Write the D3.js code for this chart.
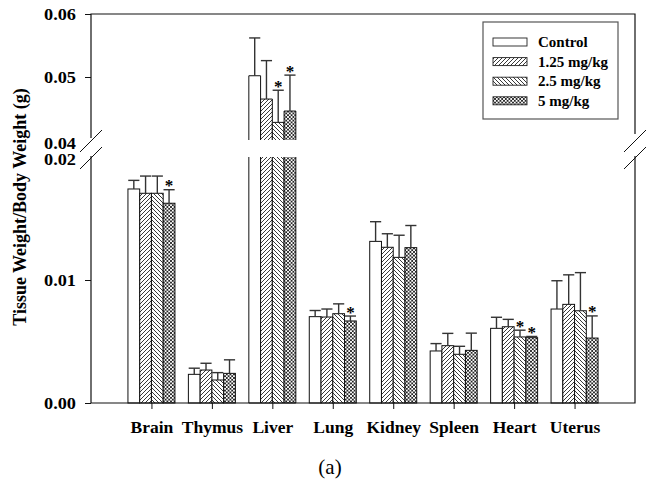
<!DOCTYPE html>
<html>
<head>
<meta charset="utf-8">
<script src="https://cdn.jsdelivr.net/npm/d3@7"></script>
<style>
  html, body { margin: 0; padding: 0; background: #fff; }
  svg { display: block; }
  text { font-family: "Liberation Serif", "Times New Roman", serif; fill: #000; }
</style>
</head>
<body>
<svg id="chart" width="649" height="484"></svg>
<script>
// ---- data ----
const categories = ["Brain", "Thymus", "Liver", "Lung", "Kidney", "Spleen", "Heart", "Uterus"];
const seriesNames = ["Control", "1.25 mg/kg", "2.5 mg/kg", "5 mg/kg"];
const controlMean = [0.0174, 0.00233, 0.0502, 0.00702, 0.01314, 0.00423, 0.00607, 0.00764];
const controlSD   = [0.0007, 0.0005, 0.0060, 0.0005, 0.0016, 0.0006, 0.0009, 0.0023];
const dose125Mean = [0.01705, 0.00268, 0.0465, 0.00699, 0.01266, 0.00466, 0.0062, 0.00802];
const dose125SD   = [0.0014, 0.00055, 0.0061, 0.00065, 0.0011, 0.0010, 0.0006, 0.0024];
const dose25Mean  = [0.01705, 0.00187, 0.0428, 0.00726, 0.01184, 0.00396, 0.00537, 0.0075];
const dose25SD    = [0.0014, 0.0006, 0.0051, 0.0008, 0.0018, 0.00065, 0.00055, 0.0031];
const dose5Mean   = [0.01624, 0.00241, 0.0446, 0.00667, 0.01263, 0.00428, 0.00531, 0.00528];
const dose5SD     = [0.0011, 0.0011, 0.0057, 0.0004, 0.0018, 0.0014, 0.0001, 0.0018];
const dose25Sig   = ["Liver", "Heart"];
const dose5Sig    = ["Brain", "Liver", "Lung", "Heart", "Uterus"];
const lowerTicks  = [0, 0.01, 0.02];
const upperTicks  = [0.04, 0.05, 0.06];
const yTitle = "Tissue Weight/Body Weight (g)";
const caption = "(a)";

const series = [
  { name: seriesNames[0], mean: controlMean, sd: controlSD, sig: [], fill: "#fff" },
  { name: seriesNames[1], mean: dose125Mean, sd: dose125SD, sig: [], fill: "url(#hatchFwd)" },
  { name: seriesNames[2], mean: dose25Mean, sd: dose25SD, sig: dose25Sig, fill: "url(#hatchBack)" },
  { name: seriesNames[3], mean: dose5Mean, sd: dose5SD, sig: dose5Sig, fill: "url(#hatchCross)" }
];

// ---- layout ----
const L = 91, R = 635, T = 14, B = 403;
const svg = d3.select("#chart");
const defs = svg.append("defs");

function pattern(id, size, d) {
  const p = defs.append("pattern").attr("id", id).attr("patternUnits", "userSpaceOnUse")
    .attr("width", size).attr("height", size);
  p.append("rect").attr("width", size).attr("height", size).attr("fill", "#fff");
  p.append("path").attr("d", d).attr("stroke", "#222").attr("stroke-width", 0.9).attr("fill", "none");
}
pattern("hatchFwd", 4, "M-1,1 l2,-2 M0,4 l4,-4 M3,5 l2,-2");
pattern("hatchBack", 4, "M-1,3 l2,2 M0,0 l4,4 M3,-1 l2,2");
pattern("hatchCross", 3.6, "M-1,1 l2,-2 M0,3.6 l3.6,-3.6 M2.6,4.6 l2,-2 M-1,2.6 l2,2 M0,0 l3.6,3.6 M2.6,-1 l2,2");

const x = d3.scalePoint().domain(categories).range([L, R]).padding(1);
const x1 = d3.scaleBand().domain(seriesNames).range([-23.5, 23.5]).padding(0);
const yLow = d3.scaleLinear().domain([0, 0.02]).range([B, 157]);
const yUp = d3.scaleLinear().domain([0.04, 0.06]).range([140, T]);

function yOf(v) { return v > 0.02 ? yUp(v) : yLow(v); }

// ---- bars ----
const bars = svg.append("g");
series.forEach(s => {
  categories.forEach((c, i) => {
    const v = s.mean[i];
    const x0 = x(c) + x1(s.name);
    const w = x1.bandwidth();
    if (v <= 0.02) {
      bars.append("rect").attr("x", x0).attr("y", yLow(v)).attr("width", w)
        .attr("height", yLow(0) - yLow(v)).attr("fill", s.fill)
        .attr("stroke", "#111").attr("stroke-width", 1);
    } else {
      bars.append("rect").attr("x", x0).attr("y", yLow(0.02)).attr("width", w)
        .attr("height", yLow(0) - yLow(0.02)).attr("fill", s.fill);
      bars.append("path")
        .attr("d", `M${x0},${yLow(0.02)}V${yLow(0)}H${x0 + w}V${yLow(0.02)}`)
        .attr("fill", "none").attr("stroke", "#111");
      bars.append("rect").attr("x", x0).attr("y", yUp(v)).attr("width", w)
        .attr("height", yUp(0.04) - yUp(v)).attr("fill", s.fill);
      bars.append("path")
        .attr("d", `M${x0},${yUp(0.04)}V${yUp(v)}H${x0 + w}V${yUp(0.04)}`)
        .attr("fill", "none").attr("stroke", "#111");
    }
  });
});

// ---- error bars & stars ----
const err = svg.append("g").attr("stroke", "#333").attr("stroke-width", 1.4);
series.forEach(s => {
  categories.forEach((c, i) => {
    const v = s.mean[i], top = v + s.sd[i];
    const cx = x(c) + x1(s.name) + x1.bandwidth() / 2;
    const hw = x1.bandwidth() / 2 - 0.3;
    err.append("line").attr("x1", cx).attr("x2", cx).attr("y1", yOf(v)).attr("y2", yOf(top));
    err.append("line").attr("x1", cx - hw).attr("x2", cx + hw).attr("y1", yOf(top)).attr("y2", yOf(top));
    if (s.sig.includes(c)) {
      svg.append("text").attr("x", cx).attr("y", yOf(top) + 1.5)
        .attr("text-anchor", "middle").attr("font-size", 17).attr("font-weight", "bold").text("*");
    }
  });
});

// ---- axes ----
const fmt = d3.format(".2f");
const axLow = svg.append("g").attr("transform", `translate(${L},0)`)
  .call(d3.axisLeft(yLow).tickValues(lowerTicks).tickFormat(fmt).tickSize(6).tickPadding(9));
const axUp = svg.append("g").attr("transform", `translate(${L},0)`)
  .call(d3.axisLeft(yUp).tickValues(upperTicks).tickFormat(fmt).tickSize(6).tickPadding(9));
[axLow, axUp].forEach(g => {
  g.select(".domain").remove();
  g.selectAll("line").attr("stroke", "#111");
  g.selectAll("text").attr("font-size", 16).attr("font-weight", "bold")
    .attr("textLength", 32).attr("lengthAdjust", "spacingAndGlyphs")
    .style("font-family", '"Liberation Serif", serif');
});
axLow.selectAll(".tick").filter(d => d === 0.02).select("line").remove();
axUp.selectAll(".tick").filter(d => d === 0.04).select("line").remove();
axUp.selectAll(".tick").filter(d => d === 0.04).select("text").attr("dy", "0.53em");
axLow.selectAll(".tick").filter(d => d === 0.02).select("text").attr("dy", "0.45em");

const axX = svg.append("g").attr("transform", `translate(0,${B})`)
  .call(d3.axisBottom(x).tickSize(6).tickPadding(12));
axX.select(".domain").remove();
axX.selectAll("line").attr("stroke", "#111");
axX.selectAll("text").attr("font-size", 17.5).attr("font-weight", "bold")
  .style("font-family", '"Liberation Serif", serif');

// frame with breaks
const frame = svg.append("g").attr("stroke", "#111").attr("stroke-width", 1.2).attr("fill", "none");
frame.append("path").attr("d", `M${L},${138}V${T}H${R}V${134}`);
frame.append("path").attr("d", `M${L},${156}V${B}H${R}V${156}`);
[L, R].forEach(ax => {
  frame.append("line").attr("x1", ax - 11).attr("y1", 152).attr("x2", ax + 11).attr("y2", 130).attr("stroke-width", 1);
  frame.append("line").attr("x1", ax - 11).attr("y1", 169).attr("x2", ax + 11).attr("y2", 147).attr("stroke-width", 1);
});

// ---- legend ----
const lg = svg.append("g");
lg.append("rect").attr("x", 483).attr("y", 22).attr("width", 135).attr("height", 97)
  .attr("fill", "#fff").attr("stroke", "#555").attr("stroke-width", 1.2);
series.forEach((s, i) => {
  const cy = 42 + i * 19.6;
  lg.append("rect").attr("x", 493).attr("y", cy - 4).attr("width", 34).attr("height", 8)
    .attr("fill", s.fill).attr("stroke", "#222").attr("stroke-width", 0.9);
  lg.append("text").attr("x", 538).attr("y", cy + 5).attr("font-size", 15).attr("font-weight", "bold").text(s.name);
});

// ---- titles ----
svg.append("text").attr("transform", `translate(26,207) rotate(-90)`)
  .attr("text-anchor", "middle").attr("font-size", 18).attr("font-weight", "bold").text(yTitle);
svg.append("text").attr("x", 330).attr("y", 474).attr("text-anchor", "middle")
  .attr("font-size", 21).text(caption);
</script>
</body>
</html>
